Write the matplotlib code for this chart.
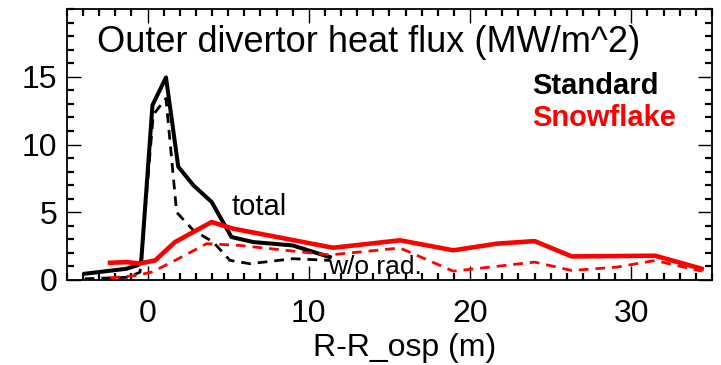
import matplotlib
matplotlib.use('Agg')
import matplotlib.pyplot as plt
from matplotlib.ticker import MultipleLocator

plt.rcParams['font.family'] = 'Liberation Sans'

# Standard divertor, total heat flux
std_x = [-3.9, -1.3, -0.6, -0.4, 0.3, 1.14, 1.9, 2.83, 3.97, 5.2, 6.55, 9.0, 11.3]
std_tot = [0.46, 0.83, 1.1, 1.3, 12.9, 14.95, 8.36, 7.0, 5.76, 3.17, 2.8, 2.55, 1.69]
# Standard divertor, without radiation
std_x2 = [-3.9, -1.2, -0.47, 0.35, 1.14, 1.8, 2.83, 4.07, 5.1, 6.35, 9.0, 11.3]
std_norad = [0.09, 0.2, 0.58, 12.2, 13.4, 5.0, 3.67, 2.8, 1.45, 1.2, 1.57, 1.45]

# Snowflake divertor
sf_x = [-2.33, -1.3, -0.5, 0.46, 1.7, 3.97, 5.3, 11.5, 15.65, 18.96, 21.65, 24.0, 26.3, 31.47, 34.36]
sf_tot = [1.27, 1.32, 1.22, 1.44, 2.8, 4.28, 3.79, 2.38, 2.93, 2.19, 2.68, 2.87, 1.74, 1.79, 0.83]
sf_x2 = [-2.33, -0.68, 0.3, 1.7, 3.66, 5.7, 11.3, 15.65, 18.96, 24.0, 26.3, 29.1, 31.47, 34.36]
sf_norad = [0.16, 0.33, 0.6, 1.44, 2.68, 2.55, 1.85, 2.36, 0.65, 1.32, 0.7, 0.95, 1.44, 0.65]

fig = plt.figure(figsize=(7.21, 3.65), dpi=100)
ax = fig.add_axes([0.0929, 0.2329, 0.8946, 0.7424])

ax.plot(std_x, std_tot, color='black', lw=2.9)
ax.plot(std_x2, std_norad, color='black', lw=2.0, ls=(0, (3.5, 2.5)))
ax.plot(sf_x, sf_tot, color='red', lw=3.3)
ax.plot(sf_x2, sf_norad, color='red', lw=2.0, ls=(0, (3.5, 2.5)))

ax.set_xlim(-5, 35)
ax.set_ylim(0, 20)
ax.xaxis.set_major_locator(MultipleLocator(10))
ax.xaxis.set_minor_locator(MultipleLocator(1))
ax.set_yticks([0, 5, 10, 15])
ax.yaxis.set_minor_locator(MultipleLocator(1))
ax.tick_params(which='both', direction='in', top=True, right=True)
ax.tick_params(which='major', length=10, width=1.0, labelsize=23, pad=7)
ax.tick_params(which='minor', length=5, width=1.6)
ax.tick_params(axis='x', which='major', pad=14)
for s in ax.spines.values():
    s.set_linewidth(1.3)

ax.set_xlabel('R-R_osp (m)', fontsize=23, labelpad=2)
ax.xaxis.set_label_coords(0.524, -0.195)

ax.text(0.047, 0.878, 'Outer divertor heat flux (MW/m^2)', transform=ax.transAxes,
        fontsize=26, va='center', ha='left')
ax.text(0.721, 0.716, 'Standard', transform=ax.transAxes, fontsize=21,
        fontweight='bold', color='black', va='center')
ax.text(0.721, 0.598, 'Snowflake', transform=ax.transAxes, fontsize=21,
        fontweight='bold', color='red', va='center')
ax.text(5.2, 4.78, 'total', fontsize=21, va='baseline')
ax.text(11.2, 0.41, 'w/o rad.', fontsize=19, va='baseline')

fig.savefig('out.png', dpi=100)
